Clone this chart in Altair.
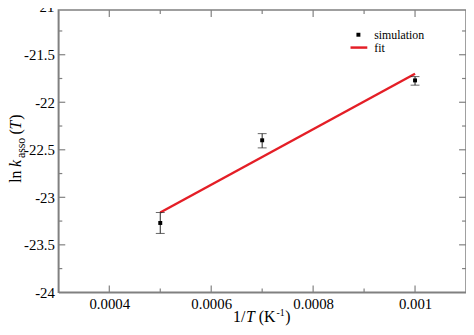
import altair as alt
import pandas as pd

# ---- data ----
x_sim = [0.0005, 0.0007, 0.001]
y_sim = [-23.27, -22.40, -21.77]
err_lo = [-23.38, -22.48, -21.82]
err_hi = [-23.16, -22.33, -21.73]

fit_x = [0.0005, 0.001]
fit_y = [-23.16, -21.70]

x_major = [0.0004, 0.0006, 0.0008, 0.001]
x_minor = [0.0005, 0.0007, 0.0009]
y_major = [-24, -23.5, -23, -22.5, -22, -21.5]
y_top = [-21]
y_minor = [-23.75, -23.25, -22.75, -22.25, -21.75, -21.25]
legend_labels = ["simulation", "fit"]

W, H = 413, 286
FONT = "Liberation Serif"
GREY = "#808080"
RED = "#e41e26"

sim = pd.DataFrame({"x": x_sim, "y": y_sim, "lo": err_lo, "hi": err_hi})
fit = pd.DataFrame({"x": fit_x, "y": fit_y})

xs = alt.Scale(domain=[0.0003, 0.0011], nice=False, zero=False)
ys = alt.Scale(domain=[-24, -21.03], nice=False, zero=False)

xaxis = alt.Axis(values=x_major, labelExpr="'' + datum.value", ticks=False, grid=False,
                 domainColor=GREY, domainWidth=1.5, labelFont=FONT, labelFontSize=15,
                 labelColor="black", labelPadding=4, title=None, labelFlush=False)
yaxis = alt.Axis(values=y_major, labelExpr="'' + datum.value", ticks=False, grid=False,
                 domainColor=GREY, domainWidth=1.5, labelFont=FONT, labelFontSize=15,
                 labelColor="black", labelPadding=4, title=None, labelFlush=False)

fit_line = alt.Chart(fit).mark_line(color=RED, strokeWidth=2.5).encode(
    x=alt.X("x:Q", scale=xs, axis=xaxis),
    y=alt.Y("y:Q", scale=ys, axis=yaxis),
)

# top "-21" label (partly above the page edge, as in the reference)
top_lab = alt.Chart(pd.DataFrame({"y": y_top})).mark_text(
    font=FONT, fontSize=15, align="right", baseline="middle", color="black"
).encode(y=alt.Y("y:Q", scale=ys), x=alt.value(-4), text=alt.Text("y:Q"))

err_rule = alt.Chart(sim).mark_rule(color="#222", strokeWidth=1).encode(
    x=alt.X("x:Q", scale=xs), y=alt.Y("lo:Q", scale=ys), y2="hi:Q")
cap_lo = alt.Chart(sim).mark_tick(orient="horizontal", size=9, thickness=1, color="#222").encode(
    x=alt.X("x:Q", scale=xs), y=alt.Y("lo:Q", scale=ys))
cap_hi = alt.Chart(sim).mark_tick(orient="horizontal", size=9, thickness=1, color="#222").encode(
    x=alt.X("x:Q", scale=xs), y=alt.Y("hi:Q", scale=ys))
pts = alt.Chart(sim).mark_square(size=16, color="black", opacity=1).encode(
    x=alt.X("x:Q", scale=xs), y=alt.Y("y:Q", scale=ys))

# ---- inward ticks on all four sides ----
def xticks(vals, length):
    d = pd.DataFrame({"x": vals})
    b = alt.Chart(d).mark_rule(color=GREY, strokeWidth=1.2).encode(
        x=alt.X("x:Q", scale=xs), y=alt.value(H), y2=alt.value(H - length))
    t = alt.Chart(d).mark_rule(color=GREY, strokeWidth=1.2).encode(
        x=alt.X("x:Q", scale=xs), y=alt.value(0), y2=alt.value(length))
    return [b, t]

def yticks(vals, length):
    d = pd.DataFrame({"y": vals})
    l = alt.Chart(d).mark_rule(color=GREY, strokeWidth=1.2).encode(
        y=alt.Y("y:Q", scale=ys), x=alt.value(0), x2=alt.value(length))
    r = alt.Chart(d).mark_rule(color=GREY, strokeWidth=1.2).encode(
        y=alt.Y("y:Q", scale=ys), x=alt.value(W), x2=alt.value(W - length))
    return [l, r]

tick_layers = (xticks(x_major, 7) + xticks(x_minor, 4)
               + yticks([v for v in y_major if v > -24], 7) + yticks(y_minor, 4))

# ---- legend ----
one = pd.DataFrame({"a": [0]})
leg_sq = alt.Chart(one).mark_square(size=16, color="black", opacity=1).encode(
    x=alt.value(304), y=alt.value(25))
leg_line = alt.Chart(one).mark_rule(color=RED, strokeWidth=2.5).encode(
    x=alt.value(296), x2=alt.value(313), y=alt.value(38))
leg_t1 = alt.Chart(one).mark_text(text=legend_labels[0], font=FONT, fontSize=12, align="left",
                                  baseline="alphabetic", color="black").encode(
    x=alt.value(320), y=alt.value(29))
leg_t2 = alt.Chart(one).mark_text(text=legend_labels[1], font=FONT, fontSize=12, align="left",
                                  baseline="alphabetic", color="black").encode(
    x=alt.value(320), y=alt.value(42))

# ---- axis titles built from pieces (italic / sub / superscript) ----
def piece(text, x, y, size=16, italic=False, angle=0):
    kw = dict(text=text, font=FONT, fontSize=size, align="left", baseline="alphabetic",
              color="black")
    if italic:
        kw["fontStyle"] = "italic"
    if angle:
        kw["angle"] = angle
    return alt.Chart(one).mark_text(**kw).encode(x=alt.value(x), y=alt.value(y))

xb = 316
x_title = [
    piece("1/", 177, xb),
    piece("T", 190, xb, italic=True),
    piece("(K", 203, xb),
    piece("-1", 221, xb - 6, size=10),
    piece(")", 230, xb),
]
yb = -38
y_title = [
    piece("ln", yb, 175, angle=270),
    piece("k", yb, 159, italic=True, angle=270),
    piece("asso", yb + 4, 150, size=12, angle=270),
    piece("(", yb, 126, angle=270),
    piece("T", yb, 121, italic=True, angle=270),
    piece(")", yb, 111, angle=270),
]

chart = alt.layer(
    fit_line, top_lab, *tick_layers, err_rule, cap_lo, cap_hi, pts,
    leg_sq, leg_line, leg_t1, leg_t2, *x_title, *y_title,
).properties(
    width=W, height=H,
    autosize=alt.AutoSizeParams(type="none"),
    padding={"left": 51, "top": 0, "right": 0, "bottom": 33},
).configure(background="white", font=FONT).configure_view(
    stroke=GREY, strokeWidth=1.5
).configure_axis(labelFont=FONT)

chart.save("out.html", embed_options={"renderer": "svg", "actions": False})
